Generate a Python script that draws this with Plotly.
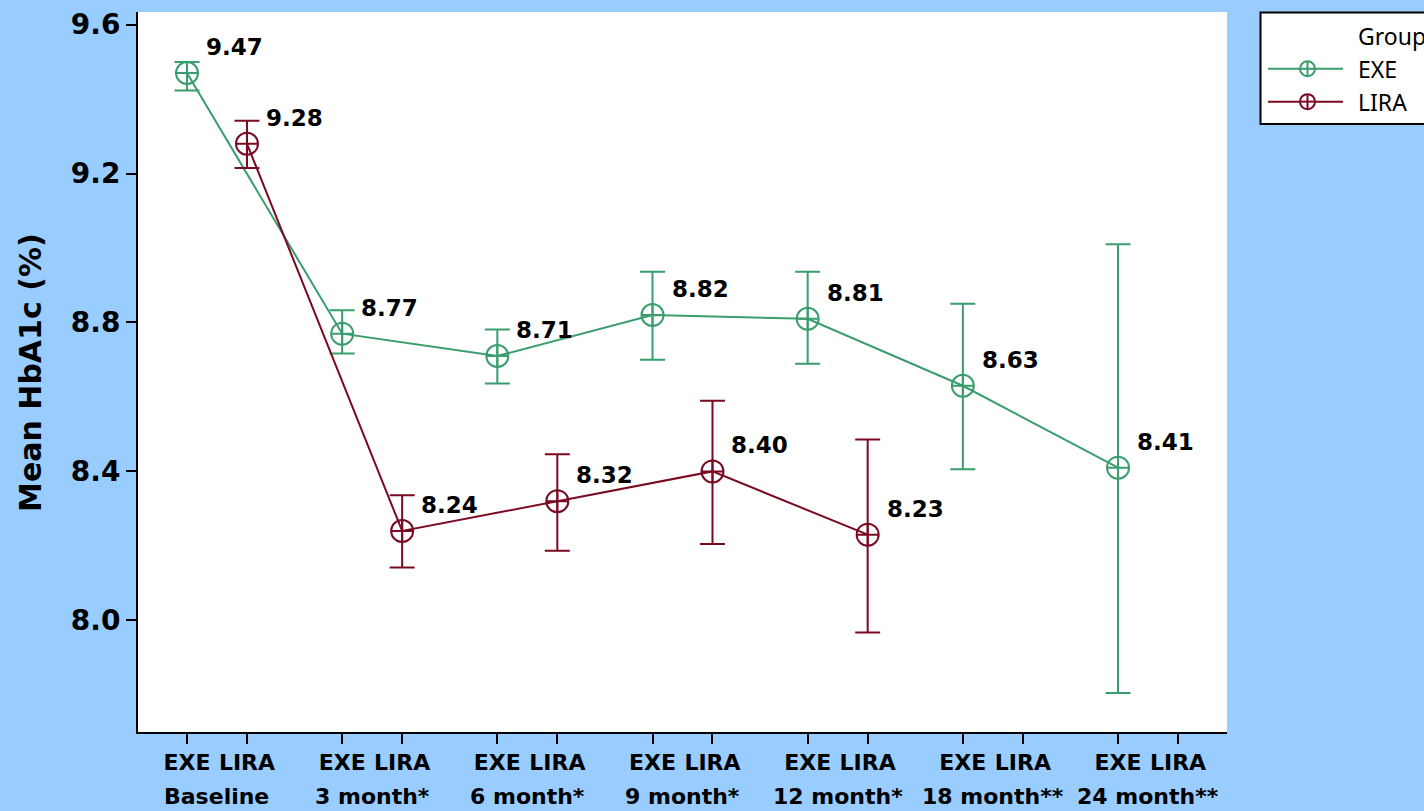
import plotly.graph_objects as go

# Mean HbA1c (%) by group and visit, with error bar limits
timepoints = ["Baseline", "3 month*", "6 month*", "9 month*", "12 month*",
              "18 month**", "24 month**"]

exe_mean = [9.47, 8.77, 8.71, 8.82, 8.81, 8.63, 8.41]
exe_upper = [9.500, 8.833, 8.781, 8.936, 8.936, 8.850, 9.010]
exe_lower = [9.423, 8.717, 8.636, 8.700, 8.689, 8.406, 7.805]

lira_mean = [9.28, 8.24, 8.32, 8.40, 8.23]
lira_upper = [9.342, 8.336, 8.446, 8.590, 8.486]
lira_lower = [9.215, 8.142, 8.187, 8.205, 7.967]

groups = ["EXE", "LIRA"]
y_ticks = [8.0, 8.4, 8.8, 9.2, 9.6]

GREEN = "#3A9D6D"
RED = "#7A0A22"
BG = "#99CCFF"
BOLD = "DejaVu Sans"
PLAIN = "Noto Sans"

# clustered x positions: EXE left of each visit, LIRA right of it
OFFSET = 0.1933
exe_x = [k - OFFSET for k in range(len(exe_mean))]
lira_x = [k + OFFSET for k in range(len(lira_mean))]

fig = go.Figure()

for name, xs, mean, up, lo, color in [
    ("EXE", exe_x, exe_mean, exe_upper, exe_lower, GREEN),
    ("LIRA", lira_x, lira_mean, lira_upper, lira_lower, RED),
]:
    fig.add_trace(
        go.Scatter(
            x=xs,
            y=mean,
            name=name,
            mode="lines+markers",
            line=dict(color=color, width=2),
            marker=dict(symbol="circle-cross-open", size=22, color=color,
                        line=dict(width=2)),
            error_y=dict(
                type="data",
                symmetric=False,
                array=[u - m for u, m in zip(up, mean)],
                arrayminus=[m - l for m, l in zip(mean, lo)],
                color=color,
                thickness=2,
                width=12.5,
            ),
            showlegend=False,
        )
    )
    # value labels up-right of each point
    for x, v in zip(xs, mean):
        fig.add_annotation(
            x=x, y=v, text=f"{v:.2f}", showarrow=False,
            xanchor="left", yanchor="middle", xshift=17, yshift=26,
            font=dict(family=BOLD, size=23, weight="bold", color="black"),
        )

# visit names under the EXE / LIRA tick labels
for k, t in enumerate(timepoints):
    fig.add_annotation(
        x=k, y=-0.089, xref="x", yref="paper", text=t, showarrow=False,
        xanchor="center", yanchor="middle",
        font=dict(family=BOLD, size=22, weight="bold", color="black"),
    )

# y axis title
fig.add_annotation(
    x=-0.0992, y=0.5, xref="paper", yref="paper", text="Mean HbA1c (%)",
    textangle=-90, showarrow=False, xanchor="center", yanchor="middle",
    font=dict(family=BOLD, size=30, weight="bold", color="black"),
)

# hand-drawn legend box to the right of the plot
L, T, B, R = 138, 9, 732, 1227
def xp(px):
    return (px - L) / (R - L)
def yp(py):
    return (B - py) / (B - T)

fig.add_shape(type="rect", xref="paper", yref="paper",
              x0=xp(1260.5), x1=xp(1432), y0=yp(121.5), y1=yp(9.5),
              line=dict(color="black", width=2), fillcolor="white", layer="above")
fig.add_annotation(x=xp(1356), y=yp(33), xref="paper", yref="paper",
                   text="Group", showarrow=False, xanchor="left", yanchor="middle",
                   font=dict(family=PLAIN, size=23, color="black"))
for name, color, ly in [("EXE", GREEN, 66), ("LIRA", RED, 99)]:
    fig.add_shape(type="line", xref="paper", yref="paper",
                  x0=xp(1268), x1=xp(1343), y0=yp(ly), y1=yp(ly),
                  line=dict(color=color, width=2), layer="above")
    fig.add_shape(type="circle", xref="paper", yref="paper",
                  xsizemode="pixel", ysizemode="pixel",
                  xanchor=xp(1307.5), yanchor=yp(ly),
                  x0=-7.5, x1=7.5, y0=-7.5, y1=7.5,
                  line=dict(color=color, width=2), fillcolor="white", layer="above")
    fig.add_shape(type="line", xref="paper", yref="paper",
                  xsizemode="pixel", ysizemode="pixel",
                  xanchor=xp(1307.5), yanchor=yp(ly),
                  x0=0, x1=0, y0=-7.5, y1=7.5,
                  line=dict(color=color, width=2), layer="above")
    fig.add_shape(type="line", xref="paper", yref="paper",
                  xsizemode="pixel", ysizemode="pixel",
                  xanchor=xp(1307.5), yanchor=yp(ly),
                  x0=-7.5, x1=7.5, y0=0, y1=0,
                  line=dict(color=color, width=2), layer="above")
    fig.add_annotation(x=xp(1356), y=yp(ly), xref="paper", yref="paper",
                       text=name, showarrow=False, xanchor="left", yanchor="middle",
                       font=dict(family=PLAIN, size=23, color="black"))

tick_x = []
tick_text = []
for k in range(len(timepoints)):
    tick_x += [k - OFFSET, k + OFFSET]
    tick_text += groups

fig.update_layout(
    width=1424,
    height=811,
    paper_bgcolor=BG,
    plot_bgcolor="white",
    margin=dict(l=L, r=1424 - R, t=T, b=811 - B, pad=0),
    showlegend=False,
    xaxis=dict(
        range=[-0.509, 6.509],
        tickvals=tick_x,
        ticktext=tick_text,
        ticks="outside", ticklen=10, tickwidth=1.5, tickcolor="black",
        showline=True, linecolor="black", linewidth=2,
        showgrid=False, zeroline=False,
        ticklabeloverflow="allow",
        tickfont=dict(family=BOLD, size=22, weight="bold", color="black"),
    ),
    yaxis=dict(
        range=[7.700, 9.634],
        tickvals=y_ticks,
        tickformat=".1f",
        ticks="outside", ticklen=10, tickwidth=1.5, tickcolor="black",
        showline=True, linecolor="black", linewidth=2,
        showgrid=False, zeroline=False,
        ticklabeloverflow="allow",
        tickfont=dict(family=BOLD, size=28, weight="bold", color="black"),
    ),
)

fig.write_html(
    "out.html",
    config={"displayModeBar": False},
    post_script="document.body.style.margin='0';document.body.style.overflow='hidden';",
)
